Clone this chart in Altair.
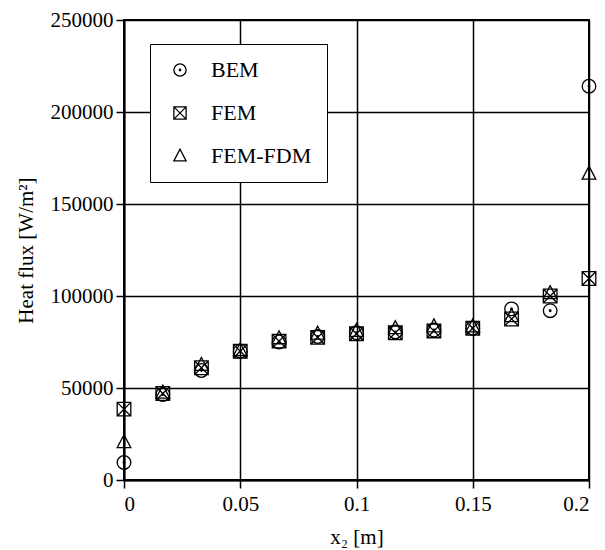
import altair as alt
import pandas as pd

x_vals = [0.0, 0.0167, 0.0333, 0.05, 0.0667, 0.0833, 0.1, 0.1167, 0.1333, 0.15, 0.1667, 0.1833, 0.2]
bem = [9500, 46500, 59500, 70000, 75000, 78000, 80000, 80500, 81500, 82500, 93000, 92000, 214000]
fem = [38500, 47000, 61000, 70000, 75500, 77500, 79500, 80000, 81000, 82500, 87500, 100000, 109500]
fem_fdm = [20500, 47500, 62500, 70500, 77000, 79500, 81000, 82500, 83500, 83500, 89000, 101500, 166500]
methods = ["BEM", "FEM", "FEM-FDM"]
x_ticks = [0, 0.05, 0.1, 0.15, 0.2]
y_ticks = [0, 50000, 100000, 150000, 200000, 250000]

rows = []
for name, series in zip(methods, [bem, fem, fem_fdm]):
    for xv, yv in zip(x_vals, series):
        rows.append({"x": xv, "y": yv, "method": name})
df = pd.DataFrame(rows)

shape_circle_dot = ("M1,0A1,1,0,1,1,-1,0A1,1,0,1,1,1,0Z"
                    "M0.12,0A0.12,0.12,0,1,1,-0.12,0A0.12,0.12,0,1,1,0.12,0Z")
shape_square_x = "M-1,-1L1,-1L1,1L-1,1ZM-1,-1L1,1M-1,1L1,-1"
shape_triangle = "M0,-1.1L1,0.8L-1,0.8Z"

FONT = "Liberation Serif"

chart = alt.Chart(df).mark_point(
    filled=False, color="black", strokeWidth=1.3, size=185, opacity=1
).encode(
    x=alt.X("x:Q",
            scale=alt.Scale(domain=[0, 0.2], nice=False, zero=False),
            axis=alt.Axis(values=x_ticks, title="x₂ [m]", format="~g")),
    y=alt.Y("y:Q",
            scale=alt.Scale(domain=[0, 250000], nice=False),
            axis=alt.Axis(values=y_ticks, title="Heat flux [W/m²]", format="d")),
    shape=alt.Shape("method:N",
                    sort=methods,
                    scale=alt.Scale(domain=methods,
                                    range=[shape_circle_dot, shape_square_x, shape_triangle]),
                    legend=alt.Legend(title=None, orient="none", legendX=26, legendY=24,
                                      padding=15, rowPadding=21, labelOffset=20,
                                      symbolOffset=4,
                                      labelFontSize=22, labelFont=FONT, labelColor="black",
                                      symbolSize=150, symbolStrokeWidth=1.3,
                                      symbolStrokeColor="black", symbolFillColor="transparent",
                                      strokeColor="black", fillColor="white")),
).properties(
    width=465, height=460,
    background="white",
    autosize=alt.AutoSizeParams(type="none"),
    padding={"left": 124, "top": 20, "right": 16, "bottom": 70},
).configure_view(
    stroke="black", strokeWidth=2
).configure_axis(
    grid=True, gridColor="black", gridWidth=1.5, gridOpacity=1,
    domainColor="black", domainWidth=2,
    tickColor="black", tickSize=8, tickWidth=1.5,
    labelFont=FONT, labelFontSize=21, labelColor="black",
    titleFont=FONT, titleFontSize=21, titleFontWeight="normal", titleColor="black",
).configure_axisX(
    labelPadding=5, titlePadding=12
).configure_axisY(
    labelPadding=3, titlePadding=14
)

chart.save("out.html", embed_options={"renderer": "svg", "actions": False})
